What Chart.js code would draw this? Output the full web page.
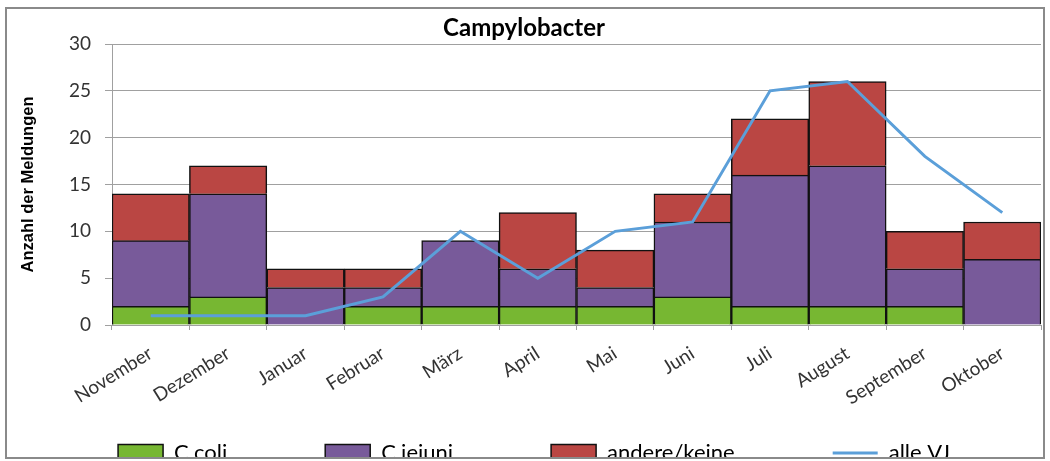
<!DOCTYPE html>
<html>
<head>
<meta charset="utf-8">
<script src="https://cdn.jsdelivr.net/npm/chart.js"></script>
<style>
  body { margin: 0; background: #fff; }
  .frame { position: absolute; left: 5px; top: 7px; width: 1036px; height: 448px;
           border: 2px solid #8a8a8a; overflow: hidden; }
  .box { position: relative; width: 1036px; height: 470px; }
</style>
</head>
<body>
<div class="frame"><div class="box"><canvas id="campyChart"></canvas></div></div>

<script>
    const months = ['November', 'Dezember', 'Januar', 'Februar', 'März', 'April',
                    'Mai', 'Juni', 'Juli', 'August', 'September', 'Oktober'];
    const coli    = [2, 3, 0, 2, 2, 2, 2, 3, 2, 2, 2, 0];
    const jejuni  = [7, 11, 4, 2, 7, 4, 2, 8, 14, 15, 4, 7];
    const andere  = [5, 3, 2, 2, 0, 6, 4, 3, 6, 9, 4, 4];
    const alleVJ  = [1, 1, 1, 3, 10, 5, 10, 11, 25, 26, 18, 12];
    const yTicks  = [0, 5, 10, 15, 20, 25, 30];

    const tickFont = { family: 'Lato', size: 19 };
    const legendPad = 98;
    const legendItemTop = 433;   // where the legend row sits (canvas px)
    const legendShift = 10;

    // keep the legend row low without reserving its whole padding as layout space
    const legendPlacer = {
        id: 'legendPlacer',
        beforeLayout(chart) {
            const lg = chart.legend;
            if (lg && !lg._patched) {
                const fit = lg.fit;
                lg.fit = function () { fit.call(this); this.height = 34; };
                lg._patched = true;
            }
        },
        afterLayout(chart) {
            const lg = chart.legend;
            lg.top = legendItemTop - legendPad;
            lg.bottom = chart.height;
            lg.height = lg.bottom - lg.top;
            lg.left += legendShift;
            lg.right += legendShift;
        }
    };

    const campyCtx = document.getElementById('campyChart');
    new Chart(campyCtx, {
        data: {
            labels: months,
            datasets: [
                {
                    type: 'bar',
                    label: 'C.coli',
                    data: coli,
                    backgroundColor: '#77b732',
                    borderColor: '#111',
                    borderWidth: 1.5,
                    borderSkipped: 'start',
                    pointStyle: 'rect',
                    order: 1
                },
                {
                    type: 'bar',
                    label: 'C.jejuni',
                    data: jejuni,
                    backgroundColor: '#785a9a',
                    borderColor: '#111',
                    borderWidth: 1.5,
                    borderSkipped: 'start',
                    pointStyle: 'rect',
                    order: 1
                },
                {
                    type: 'bar',
                    label: 'andere/keine',
                    data: andere,
                    backgroundColor: '#ba4643',
                    borderColor: '#111',
                    borderWidth: 1.5,
                    borderSkipped: 'start',
                    pointStyle: 'rect',
                    order: 1
                },
                {
                    type: 'line',
                    label: 'alle VJ',
                    data: alleVJ,
                    borderColor: '#5b9fd9',
                    backgroundColor: '#5b9fd9',
                    borderWidth: 3,
                    pointRadius: 0,
                    tension: 0,
                    stack: 'vj',
                    pointStyle: 'line',
                    order: 0
                }
            ]
        },
        options: {
            responsive: true,
            maintainAspectRatio: false,
            animation: false,
            datasets: { bar: { barPercentage: 1, categoryPercentage: 1 } },
            layout: { padding: { left: 0, right: 2, top: 0, bottom: 0 } },
            plugins: {
                title: {
                    display: true,
                    text: 'Campylobacter',
                    color: '#000',
                    font: { family: 'Lato', size: 24, weight: 'bold' },
                    padding: { top: 4.6, bottom: 1.6 }
                },
                legend: {
                    position: 'bottom',
                    labels: {
                        usePointStyle: true,
                        pointStyleWidth: 45,
                        boxHeight: 17,
                        padding: legendPad,
                        color: '#000',
                        font: { family: 'Lato', size: 22 },
                        sort: (a, b) => a.datasetIndex - b.datasetIndex
                    }
                },
                tooltip: { enabled: false }
            },
            scales: {
                x: {
                    stacked: true,
                    afterFit: (scale) => { scale.height = 120; },
                    grid: { offset: true, drawOnChartArea: false, drawTicks: true, tickLength: 5, color: '#a0a0a0' },
                    border: { color: '#a0a0a0' },
                    ticks: { font: tickFont, color: '#333', minRotation: 32, maxRotation: 32, padding: 12 }
                },
                y: {
                    stacked: true,
                    min: 0,
                    max: 30,
                    afterFit: (scale) => { scale.width = 105; },
                    afterBuildTicks: (scale) => { scale.ticks = yTicks.map(v => ({ value: v })); },
                    grid: { color: '#a0a0a0', tickLength: 7 },
                    border: { color: '#a0a0a0' },
                    ticks: { font: tickFont, color: '#333', padding: 14 },
                    title: {
                        display: true,
                        text: 'Anzahl der Meldungen',
                        color: '#000',
                        font: { family: 'Liberation Sans', size: 16.5, weight: 'bold' },
                        padding: { top: 12, bottom: 0 }
                    }
                }
            }
        },
        plugins: [legendPlacer]
    });
</script>
</body>
</html>
